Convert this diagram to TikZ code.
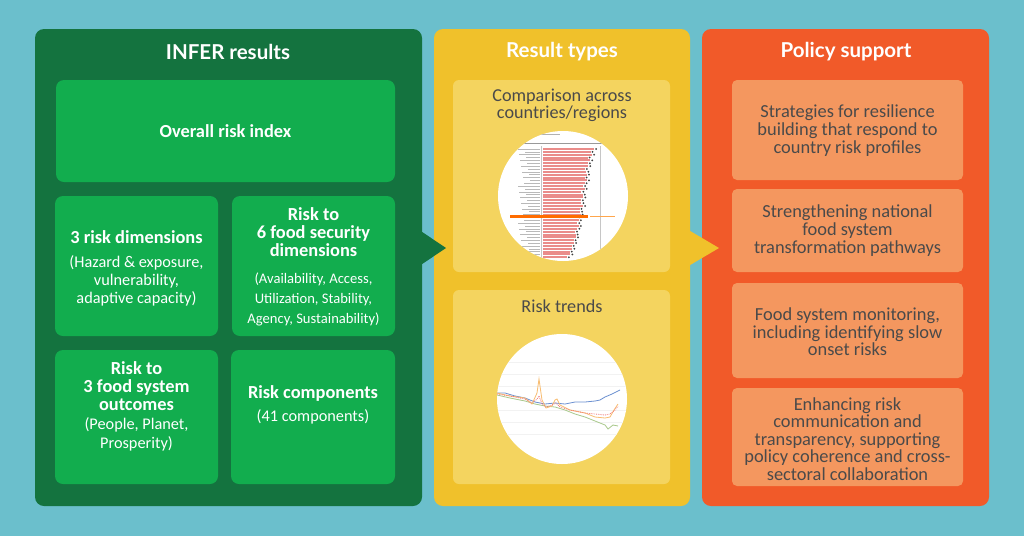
\documentclass[tikz,border=0pt]{standalone}
\usepackage{fontspec}
\setmainfont{Carlito}
\newfontfamily\titlefont{Lato}
\definecolor{bgteal}{HTML}{6BBFCC}
\definecolor{dkgreen}{HTML}{14733F}
\definecolor{ltgreen}{HTML}{12AD4E}
\definecolor{ylw}{HTML}{F0C12B}
\definecolor{ltylw}{HTML}{F4D45F}
\definecolor{org}{HTML}{F15A29}
\definecolor{ltorg}{HTML}{F4975F}
\definecolor{txtgray}{HTML}{4A4A4A}
\definecolor{barred}{HTML}{EA8C8A}
\definecolor{lineblue}{HTML}{6A8FD0}
\definecolor{linegreen}{HTML}{A8C88A}
\definecolor{lineorange}{HTML}{F8BC70}
\definecolor{linered}{HTML}{F07878}
\newcommand{\hdf}{\bfseries\fontsize{18.4}{18}\selectfont}
\newcommand{\smf}{\mdseries\fontsize{16.3}{18}\selectfont}
\newcommand{\tnf}{\mdseries\fontsize{14.6}{18}\selectfont}
\tikzset{
  panel/.style={rounded corners=9pt, minimum width=#1, inner sep=0pt, minimum height=477pt},
  gbox/.style={fill=ltgreen, rounded corners=8pt, inner sep=0pt},
  ybox/.style={fill=ltylw, rounded corners=6pt, inner sep=0pt},
  obox/.style={fill=ltorg, rounded corners=5pt, inner sep=0pt},
  ttl/.style={text=white, font=\titlefont\bfseries\fontsize{20.5}{22}\selectfont},
  gtext/.style={text=white, align=center, inner sep=0pt, font=\fontsize{16}{18}\selectfont},
  otext/.style={text=txtgray, align=center, font=\fontsize{18.4}{17.6}\selectfont},
  ytext/.style={text=txtgray, align=center, font=\fontsize{18.2}{17}\selectfont},
}
\begin{document}
\begin{tikzpicture}[x=1pt,y=-1pt]
\fill[bgteal] (0,0) rectangle (1024,536);
\useasboundingbox (0,0) rectangle (1024,536);
% panels
\node[panel=387pt, fill=dkgreen] (pg) at (228.5,267.5) {};
\node[panel=256pt, fill=ylw] (py) at (562,267.5) {};
\node[panel=287pt, fill=org] (po) at (845.5,267.5) {};
% titles
\node[ttl] (tg) at (228,52) {INFER results};
\node[ttl] (ty) at (562,52) {Result types};
\node[ttl] (to) at (846,52) {Policy support};
% green boxes
\node[gbox, minimum width=339pt, minimum height=102pt] (ori) at (225.5,131) {};
\node[gtext, font=\hdf] (orit) at (ori.center) {Overall risk index};
\node[gbox, minimum width=163pt, minimum height=140pt] (rd) at (136.5,266) {};
\node[gtext] (rdt) at (136.5,268.5) {\hdf 3 risk dimensions\\[6pt]\smf (Hazard \& exposure,\\\smf vulnerability,\\\smf adaptive capacity)};
\node[gbox, minimum width=163pt, minimum height=140pt] (fs) at (313.5,266) {};
\node[gtext] (fst) at (313.5,266.5) {\hdf Risk to\\\hdf 6 food security\\\hdf dimensions\\[9pt]\tnf (Availability, Access,\\[2pt]\tnf Utilization, Stability,\\[2pt]\tnf Agency, Sustainability)};
\node[gbox, minimum width=163pt, minimum height=134pt] (fo) at (136.5,417) {};
\node[gtext] (fot) at (136.5,406) {\hdf Risk to\\\hdf 3 food system\\\hdf outcomes\\[1pt]\smf (People, Planet,\\[1pt]\smf Prosperity)};
\node[gbox, minimum width=164pt, minimum height=134pt] (rc) at (313,417) {};
\node[gtext] (rct) at (313,404.5) {\hdf Risk components\\[5pt]\smf (41 components)};
% yellow boxes
\node[ybox, minimum width=217pt, minimum height=192pt] (cmp) at (561.5,176) {};
\node[ytext] (cmpt) at (562,105) {Comparison across\\countries/regions};
\node[ybox, minimum width=217pt, minimum height=194pt] (trd) at (561.5,387) {};
\node[ytext] (trdt) at (562,306) {Risk trends};
% circle 1: bar chart
\node[circle, fill=white, minimum size=130pt, inner sep=0pt] (c1) at (563,196) {};
\begin{scope}
\clip (563,196) circle (65);
\draw[gray!60, line width=0.6] (520,134) -- (560,134);
\draw[gray!80, line width=0.9] (508,143) -- (615,143);
\draw[gray!45, line width=0.4] (541.5,146) -- (541.5,262);
\draw[gray!45, line width=0.4] (600,146) -- (600,262);
\foreach \i/\d in {0/4,1/1,2/3,3/-1,4/2,5/0,6/1,7/-2,8/0,9/1,10/-1,11/2,12/0,13/-1,14/1,15/-2,16/0,17/1,18/-1,19/0,20/2,21/-1,22/0,23/1,24/-2,25/0,26/-1,27/1,28/0,29/-2,30/-1,31/0,32/-2,33/-1,34/-3,35/-2,36/-4,37/-3,38/-6}{
  \pgfmathsetmacro{\yy}{149+\i*2.85}
  \pgfmathsetmacro{\xe}{590-\i*0.45+\d}
  \pgfmathsetmacro{\xl}{518+mod(\i*7,13)}
  \fill[barred] (543,\yy-1) rectangle (\xe,\yy+1);
  \fill[black!75] (\xe+2,\yy) circle (1);
  \draw[gray!55, line width=0.5] (\xl,\yy) -- (540,\yy);
}
\fill[orange!85!red] (510,215) rectangle (588,217.5);
\fill[orange!70] (590,215.5) rectangle (615,217);
\end{scope}
% circle 2: line chart
\node[circle, fill=white, minimum size=130pt, inner sep=0pt] (c2) at (562,399) {};
\begin{scope}
\clip (562,399) circle (65);
\foreach \g in {362,374,386,410,422,434}{\draw[gray!10, line width=0.4] (495,\g) -- (630,\g);}
\draw[lineblue, line width=0.8] (497,393) -- (505,393) -- (515,396) -- (525,398) -- (535,402) -- (545,404) -- (555,403) -- (565,404) -- (575,402) -- (585,402) -- (595,401) -- (600,400) -- (605,397) -- (612,394) -- (620,390);
\draw[linegreen, line width=0.8] (497,395) -- (510,398) -- (525,401) -- (535,404) -- (545,406) -- (555,407) -- (565,410) -- (575,414) -- (585,417) -- (595,421) -- (605,425) -- (608,429) -- (613,425) -- (618,426);
\draw[lineorange, line width=0.8] (497,393) -- (510,396) -- (525,398) -- (532,404) -- (537,393) -- (539,379) -- (542,400) -- (546,408) -- (552,406) -- (555,400) -- (557,399) -- (560,405) -- (570,410) -- (585,413) -- (595,417) -- (605,418) -- (610,417) -- (614,410) -- (618,404);
\draw[linered, line width=0.8, densely dotted] (497,394) -- (510,396) -- (525,399) -- (532,403) -- (537,399) -- (539,396) -- (542,404) -- (546,407) -- (552,405) -- (556,403) -- (560,407) -- (570,410) -- (585,413) -- (595,414) -- (605,415) -- (610,414) -- (615,410) -- (618,406);
\end{scope}
% orange boxes
\node[obox, minimum width=231pt, minimum height=100pt] (o1) at (847.5,130) {};
\node[otext] (o1t) at (847.5,130.5) {Strategies for resilience\\building that respond to\\country risk profiles};
\node[obox, minimum width=231pt, minimum height=83pt] (o2) at (847.5,230.5) {};
\node[otext] (o2t) at (847.5,230.5) {Strengthening national\\food system\\transformation pathways};
\node[obox, minimum width=231pt, minimum height=95pt] (o3) at (847.5,330.5) {};
\node[otext] (o3t) at (847.5,332) {Food system monitoring,\\including identifying slow\\onset risks};
\node[obox, minimum width=231pt, minimum height=98pt] (o4) at (847.5,437) {};
\node[otext] (o4t) at (847.5,439) {Enhancing risk\\communication and\\transparency, supporting\\policy coherence and cross-\\sectoral collaboration};
% arrows
\fill[dkgreen] (pg.east |- 0,232) -- (446,248) -- (pg.east |- 0,264) -- cycle;
\fill[ylw] (py.east |- 0,231) -- (719,248) -- (py.east |- 0,265) -- cycle;
\end{tikzpicture}
\end{document}
